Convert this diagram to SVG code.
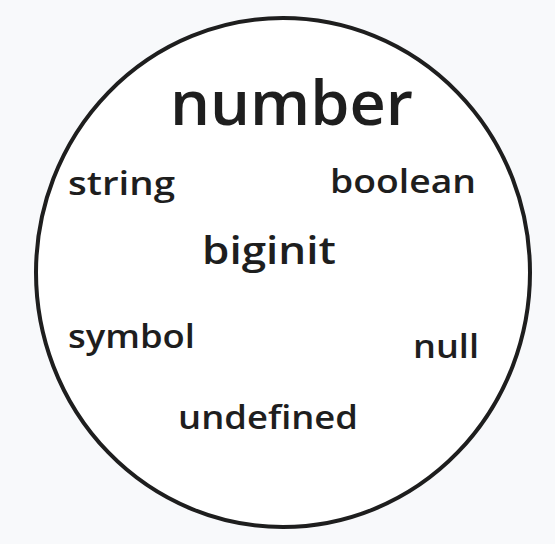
<svg xmlns="http://www.w3.org/2000/svg" width="555" height="544" viewBox="0 0 555 544">
<style>
.t{font-family:"Open Sans","Noto Sans",sans-serif;font-weight:600;fill:#1e1e1e;}
.s{font-size:32px;}
</style>
<rect width="555" height="544" fill="#f8f9fb"/>
<g id="circle">
<ellipse cx="283" cy="272.5" rx="247" ry="254.5" fill="#ffffff" stroke="#1e1e1e" stroke-width="4"/>
</g>
<g id="number"><text class="t" x="170" y="125" font-size="62" textLength="243" lengthAdjust="spacingAndGlyphs">number</text></g>
<g id="string"><text class="t s" x="68" y="195" textLength="107" lengthAdjust="spacingAndGlyphs">string</text></g>
<g id="boolean"><text class="t s" x="330" y="193" textLength="146" lengthAdjust="spacingAndGlyphs">boolean</text></g>
<g id="biginit"><text class="t" x="202" y="264" font-size="37" textLength="134" lengthAdjust="spacingAndGlyphs">biginit</text></g>
<g id="symbol"><text class="t s" x="68" y="348" textLength="127" lengthAdjust="spacingAndGlyphs">symbol</text></g>
<g id="null"><text class="t s" x="413" y="358" textLength="66" lengthAdjust="spacingAndGlyphs">null</text></g>
<g id="undefined"><text class="t s" x="178" y="429" textLength="180" lengthAdjust="spacingAndGlyphs">undefined</text></g>
</svg>
